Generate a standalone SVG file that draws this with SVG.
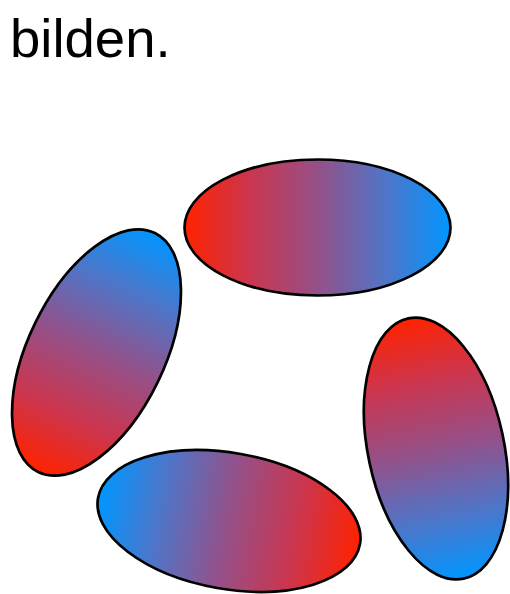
<svg xmlns="http://www.w3.org/2000/svg" width="510" height="594" viewBox="0 0 510 594">
<defs>
<linearGradient id="g" x1="0" y1="0" x2="1" y2="0">
<stop offset="0" stop-color="#ff2200"/>
<stop offset="0.25" stop-color="#ca3650"/>
<stop offset="0.5" stop-color="#955088"/>
<stop offset="0.75" stop-color="#5174c6"/>
<stop offset="1" stop-color="#0096ff"/>
</linearGradient>
<style>
.e{fill:url(#g);stroke:#000;stroke-width:2.7}
.t{font-family:"Liberation Sans",Arial,sans-serif;font-size:54.5px;fill:#000}
</style>
</defs>
<text class="t" x="10" y="57">bilden.</text>
<g id="top"><ellipse class="e" cx="317.5" cy="227.5" rx="133" ry="68"/></g>
<g id="left"><ellipse class="e" cx="0" cy="0" rx="133" ry="68" transform="translate(96.5,352.5) rotate(-64)"/></g>
<g id="right"><ellipse class="e" cx="0" cy="0" rx="133" ry="68" transform="translate(436,448.5) rotate(78)"/></g>
<g id="bottom"><ellipse class="e" cx="0" cy="0" rx="133" ry="68" transform="translate(229,521) rotate(190)"/></g>
<g id="connectors"></g>
</svg>
